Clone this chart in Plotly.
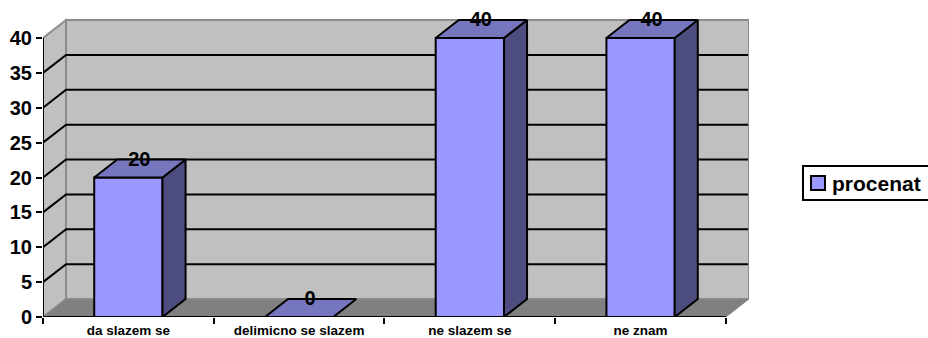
import plotly.graph_objects as go

categories = ["da slazem se", "delimicno se slazem", "ne slazem se", "ne znam"]
values = [20, 0, 40, 40]
series_name = "procenat"
y_ticks = [0, 5, 10, 15, 20, 25, 30, 35, 40]

FONT = "Liberation Sans, Arial, sans-serif"
FRONT, SIDE, TOP = "#9999FF", "#4D4D80", "#7676BE"
WALL, FLOOR, EDGE = "#C0C0C0", "#808080", "#8C8C8C"

n = len(categories)
centres = [i + 0.5 for i in range(n)]
BAR_W = 0.4
DX, DY = 0.135, 2.58      # oblique depth in axis units
X_MAX, Y_MAX = 4.135, 43.3
Y_TOP = max(y_ticks)

W, H = 928, 338
M_L, M_R, M_T, M_B = 43, 179, 15, 21
PW, PH = W - M_L - M_R, H - M_T - M_B


def px(x):
    return (x - M_L) / PW


def py(y):
    return (H - M_B - y) / PH


def path(pts):
    return "M" + " L".join(f"{x},{y}" for x, y in pts) + " Z"


shapes = [
    dict(type="path", path=path([(0, 0), (DX, DY), (DX, Y_TOP + DY), (0, Y_TOP)]),
         fillcolor=WALL, line=dict(color=EDGE, width=2), layer="below"),
    dict(type="path", path=path([(DX, DY), (n + DX, DY), (n + DX, Y_TOP + DY), (DX, Y_TOP + DY)]),
         fillcolor=WALL, line=dict(color=EDGE, width=2), layer="below"),
    dict(type="path", path=path([(0, 0), (n, 0), (n + DX, DY), (DX, DY)]),
         fillcolor=FLOOR, line=dict(color=EDGE, width=1), layer="below"),
]
for t in y_ticks[1:-1]:
    shapes.append(dict(type="path", path=f"M0,{t} L{DX},{t + DY} L{n + DX - 0.005},{t + DY}",
                       line=dict(color="black", width=2), layer="below"))

# legend box (its right edge runs off the canvas, as in the reference)
shapes.append(dict(type="rect", xref="paper", yref="paper", x0=px(803), x1=px(940), y0=py(200), y1=py(166),
                   fillcolor="white", line=dict(color="black", width=2)))
shapes.append(dict(type="rect", xref="paper", yref="paper", x0=px(811), x1=px(825), y0=py(190), y1=py(176),
                   fillcolor=FRONT, line=dict(color="black", width=2)))

fig = go.Figure()
fig.add_trace(go.Bar(x=centres, y=values, width=BAR_W, name=series_name,
                     marker=dict(color=FRONT, line=dict(color="black", width=2)),
                     hoverinfo="skip", showlegend=False))

for c, v in zip(centres, values):
    l, r = c - BAR_W / 2, c + BAR_W / 2
    if v > 0:
        fig.add_trace(go.Scatter(x=[r, r + DX, r + DX, r, r], y=[0, DY, v + DY, v, 0],
                                 mode="lines", fill="toself", fillcolor=SIDE,
                                 line=dict(color="black", width=2), showlegend=False, hoverinfo="skip"))
    fig.add_trace(go.Scatter(x=[l, r, r + DX, l + DX, l], y=[v, v, v + DY, v + DY, v],
                             mode="lines", fill="toself", fillcolor=TOP,
                             line=dict(color="black", width=2), showlegend=False, hoverinfo="skip"))

# axis lines
fig.add_trace(go.Scatter(x=[0, 0, n], y=[Y_TOP, 0, 0], mode="lines", cliponaxis=False,
                         line=dict(color="black", width=2), showlegend=False, hoverinfo="skip"))
# data labels
fig.add_trace(go.Scatter(x=[c + DX / 2 - 0.003 for c in centres], y=[v + DY - 0.2 for v in values],
                         mode="text", text=[str(v) for v in values], textposition="middle center",
                         cliponaxis=False, textfont=dict(family=FONT, size=20, color="black", weight="bold"),
                         showlegend=False, hoverinfo="skip"))
# axis that only carries the tick marks between the categories
fig.add_trace(go.Scatter(x=[0, n], y=[0, 0], xaxis="x2", mode="lines", opacity=0,
                         showlegend=False, hoverinfo="skip"))

fig.update_layout(
    width=W, height=H, autosize=False,
    margin=dict(l=M_L, r=M_R, t=M_T, b=M_B, autoexpand=False),
    paper_bgcolor="white", plot_bgcolor="white",
    barmode="overlay", shapes=shapes, hovermode=False, showlegend=False,
    xaxis=dict(range=[0, X_MAX], tickmode="array", tickvals=centres, ticktext=categories,
               ticks="", showgrid=False, zeroline=False, showline=False, ticklabelstandoff=3,
               tickangle=0, tickfont=dict(family=FONT, size=13.5, color="black", weight="bold")),
    xaxis2=dict(range=[0, X_MAX], overlaying="x", side="bottom", anchor="y", tickmode="array",
                tickvals=list(range(n + 1)), ticks="outside", ticklen=6, tickwidth=2, tickcolor="black",
                showticklabels=False, showgrid=False, zeroline=False, showline=False),
    yaxis=dict(range=[0, Y_MAX], tickmode="array", tickvals=y_ticks, ticks="outside", ticklen=6, tickwidth=2,
               tickcolor="black", showgrid=False, zeroline=False, showline=False,
               tickfont=dict(family=FONT, size=20, color="black", weight="bold")),
    annotations=[dict(xref="paper", yref="paper", x=px(831), y=py(183), xanchor="left", yanchor="middle",
                      text=f"<b>{series_name}</b>", showarrow=False, borderpad=0,
                      font=dict(family=FONT, size=21, color="black"))],
)

fig.write_html("out.html", config=dict(displayModeBar=False),
               post_script="document.body.style.margin='0';document.body.style.overflow='hidden';")
